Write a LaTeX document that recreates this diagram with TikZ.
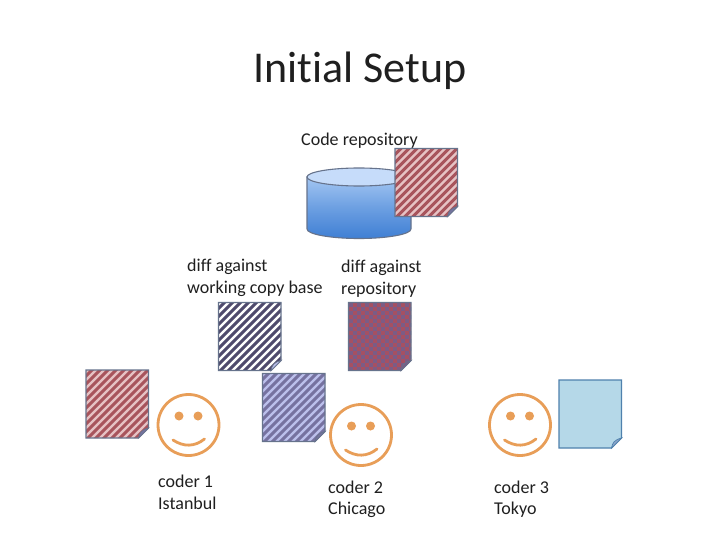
\documentclass[tikz,border=0pt]{standalone}
\usepackage{fontspec}
\setmainfont[RawFeature=-liga]{Carlito}
\definecolor{noteedge}{HTML}{66738C}
\definecolor{redbase}{HTML}{A8545C}
\definecolor{redlight}{HTML}{E6C2C4}
\definecolor{navystripe}{HTML}{4F4A6C}
\definecolor{bluestripe}{HTML}{7672A0}
\definecolor{bluelight}{HTML}{BCC0EC}
\definecolor{checkred}{HTML}{A65062}
\definecolor{checkblue}{HTML}{7B5C86}
\definecolor{paleblue}{HTML}{B5D8E8}
\definecolor{paleedge}{HTML}{4F81AD}
\definecolor{smileorange}{HTML}{E89E58}
\definecolor{cyltop}{HTML}{C6DCFA}
\definecolor{cylhigh}{HTML}{A3C6F2}
\definecolor{cyllow}{HTML}{3F7FD4}
\tikzset{
  x=1pt,y=-1pt,
  lbl/.style={font=\fontsize{18}{21}\selectfont,anchor=west,inner sep=0pt,text=black!88},
  titlelbl/.style={font=\fontsize{44}{50}\selectfont,inner sep=0pt,text=black!88},
  noteline/.style={draw=noteedge,line width=1.1pt,line join=miter},
  faceline/.style={draw=smileorange,line width=2.8pt,line cap=round},
}
\newcommand{\noteoutline}[2]{(#1,#2) -- ++(62.5,0) -- ++(0,58) -- ++(-10,10) -- ++(-52.5,0) -- cycle}
\newcommand{\notefold}[3]{\fill[#3,draw=noteedge,line width=0.7pt] (#1+52.5,#2+68) .. controls (#1+53.5,#2+63) and (#1+55,#2+60) .. (#1+62.5,#2+58) -- cycle;}
\newcommand{\stripenote}[5]{%
  \begin{scope}
    \clip \noteoutline{#1}{#2};
    \fill[#3] (#1,#2) rectangle ++(63,68);
    \foreach \k in {-8,...,17}{
      \draw[#4,line width=3pt] (#1+\k*8,#2+70) -- ++(72,-72);
    }
  \end{scope}
  \draw[noteline] \noteoutline{#1}{#2};
  \notefold{#1}{#2}{#5}}
\newcommand{\checknote}[5]{%
  \begin{scope}
    \clip \noteoutline{#1}{#2};
    \fill[#3] (#1,#2) rectangle ++(63,68);
    \foreach \i in {0,...,15}{
      \foreach \j in {0,...,17}{
        \pgfmathtruncatemacro{\chk}{mod(\i+\j,2)}
        \ifnum\chk=0
          \fill[#4] (#1+\i*4,#2+\j*4) rectangle ++(4,4);
        \fi
      }
    }
  \end{scope}
  \draw[noteline] \noteoutline{#1}{#2};
  \notefold{#1}{#2}{#5}}
\newcommand{\smileface}[2]{%
  \draw[faceline] (#1,#2) circle [radius=30.5];
  \fill[smileorange] (#1-9.5,#2-9) circle [radius=4.5];
  \fill[smileorange] (#1+9.5,#2-9) circle [radius=4.5];
  \draw[faceline] (#1-15.5,#2+15) .. controls (#1-5,#2+22) and (#1+6,#2+22) .. (#1+16,#2+14);}
\begin{document}
\begin{tikzpicture}
\useasboundingbox (0,0) rectangle (720,540);
\fill[white] (0,0) rectangle (720,540);

\node[titlelbl] (title) at (360,70.5) {Initial Setup};
\node[lbl] (repolabel) at (301,141) {Code repository};

% repository cylinder
\path[top color=cylhigh,bottom color=cyllow,middle color=cylhigh!45!cyllow,draw=noteedge,line width=1.1pt]
  (307,177) -- (307,229) arc [start angle=180,end angle=0,x radius=52,y radius=9.5]
  -- (411,177) -- cycle;
\path[fill=cyltop,draw=noteedge,line width=1.1pt] (359,177) ellipse [x radius=52,y radius=9];

\stripenote{395}{148.5}{redlight}{redbase}{bluestripe}

\node[lbl] (diffa) at (187,267) {diff against};
\node[lbl] (diffb) at (187,289) {working copy base};
\node[lbl] (diffc) at (341,268) {diff against};
\node[lbl] (diffd) at (341,290) {repository};

\stripenote{218.5}{302.5}{white}{navystripe}{bluelight}
\checknote{348.5}{302.5}{checkred}{checkblue}{checkblue}
\stripenote{262.5}{373.5}{bluelight}{bluestripe}{bluestripe}
\stripenote{86}{370}{redlight}{redbase}{bluestripe}

% light note
\fill[paleblue] \noteoutline{559}{380};
\draw[draw=paleedge,line width=1.1pt] \noteoutline{559}{380};
\fill[cylhigh!60!noteedge,draw=paleedge,line width=0.7pt] (559+52.5,380+68) .. controls (559+53.5,380+63) and (559+55,380+60) .. (559+62.5,380+58) -- cycle;

\smileface{188.5}{425}
\smileface{361}{435}
\smileface{520}{425}

\node[lbl] (c1a) at (158,481.5) {coder 1};
\node[lbl] (c1b) at (158,503.5) {Istanbul};
\node[lbl] (c2a) at (328,487.5) {coder 2};
\node[lbl] (c2b) at (328,509.5) {Chicago};
\node[lbl] (c3a) at (494,487.5) {coder 3};
\node[lbl] (c3b) at (494,509.5) {Tokyo};
\end{tikzpicture}
\end{document}
